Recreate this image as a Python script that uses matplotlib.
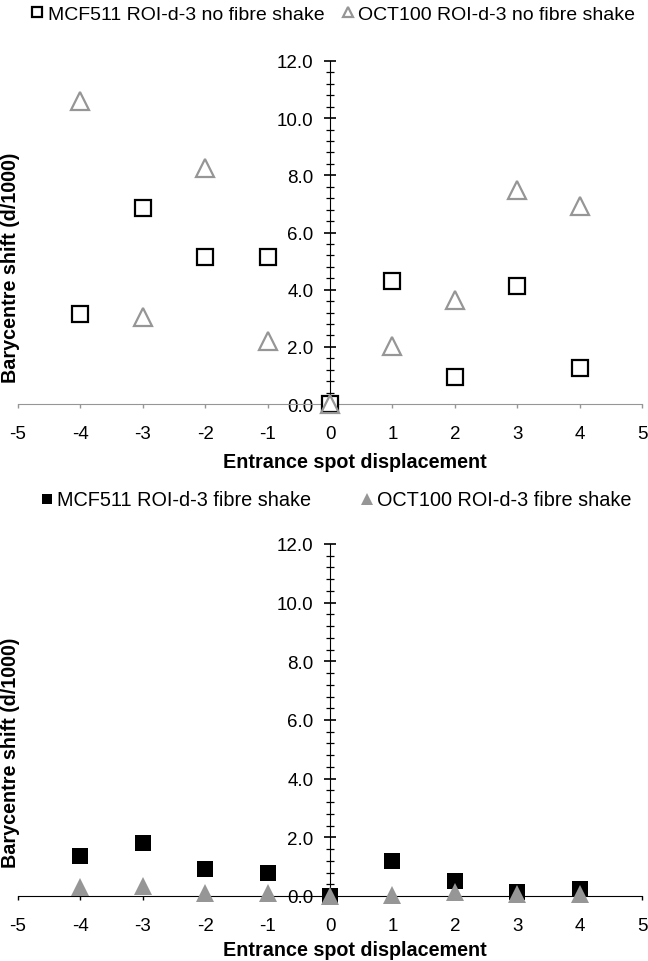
import matplotlib
matplotlib.use("Agg")
import matplotlib.pyplot as plt
from matplotlib.ticker import MultipleLocator, FormatStrFormatter

plt.rcParams['font.family'] = ['Liberation Sans', 'DejaVu Sans']
plt.rcParams['axes.unicode_minus'] = False

# valeurs
displacement = [-4, -3, -2, -1, 0, 1, 2, 3, 4]
mcf_no_shake = [3.16, 6.87, 5.13, 5.13, 0.0, 4.30, 0.95, 4.12, 1.25]
oct_no_shake = [10.6, 3.03, 8.27, 2.20, 0.0, 2.04, 3.63, 7.48, 6.93]
mcf_shake = [1.37, 1.79, 0.93, 0.80, 0.0, 1.21, 0.52, 0.14, 0.25]
oct_shake = [0.31, 0.35, 0.11, 0.11, 0.0, 0.05, 0.15, 0.08, 0.08]

labels_top = ["MCF511 ROI-d-3 no fibre shake", "OCT100 ROI-d-3 no fibre shake"]
labels_bot = ["MCF511 ROI-d-3 fibre shake", "OCT100 ROI-d-3 fibre shake"]

GREY = '#969696'

fig = plt.figure(figsize=(6.48, 9.62), dpi=100)
W, H = 648, 962


def make_ax(top_px, bottom_px):
    return fig.add_axes([18 / W, 1 - bottom_px / H, 624 / W, (bottom_px - top_px) / H])


def style(ax, xcolor, xlab_y, ylab_y):
    ax.set_xlim(-5, 5)
    ax.set_ylim(0, 12)
    for s in ['top', 'right']:
        ax.spines[s].set_visible(False)
    ax.spines['left'].set_position(('data', 0))
    ax.spines['left'].set_color('black')
    ax.spines['bottom'].set_color(xcolor)
    ax.spines['left'].set_zorder(1)
    ax.xaxis.set_major_locator(MultipleLocator(1))
    ax.yaxis.set_major_locator(MultipleLocator(2))
    ax.yaxis.set_minor_locator(MultipleLocator(0.4))
    ax.yaxis.set_major_formatter(FormatStrFormatter('%.1f'))
    ax.tick_params(axis='y', which='major', direction='inout', length=8, width=1.2,
                   labelsize=13.5, pad=8)
    ax.tick_params(axis='y', which='minor', direction='inout', length=5.5, width=0.9)
    ax.tick_params(axis='x', direction='out', length=3, width=1, color=xcolor,
                   labelsize=13.5, pad=12)
    ax.set_xlabel("Entrance spot displacement", fontsize=14.2, fontweight='bold')
    ax.xaxis.set_label_coords(0.54, xlab_y)
    ax.set_ylabel("Barycentre shift (d/1000)", fontsize=14.2, fontweight='bold')
    ax.yaxis.set_label_coords(0.003, ylab_y)


# panneau du haut
ax1 = make_ax(62, 405)
ax1.plot(displacement, mcf_no_shake, linestyle='none', marker='s', markersize=12,
         markerfacecolor='white', markeredgecolor='black', markeredgewidth=1.6,
         clip_on=False, zorder=3, label=labels_top[0])
ax1.plot(displacement, oct_no_shake, linestyle='none', marker='^', markersize=12.5,
         markerfacecolor='none', markeredgecolor=GREY, markeredgewidth=1.6,
         clip_on=False, zorder=4, label=labels_top[1])
style(ax1, GREY, -0.14, 0.40)
ax1.legend(loc='center', bbox_to_anchor=(0.505, 1 + 47 / 343), ncol=2, frameon=False,
           fontsize=14, markerscale=0.55, handlelength=0.6, handletextpad=0.25,
           columnspacing=0.9, borderaxespad=0)

# panneau du bas
ax2 = make_ax(545, 897)
ax2.plot(displacement, mcf_shake, linestyle='none', marker='s', markersize=12,
         markerfacecolor='black', markeredgecolor='black', markeredgewidth=0,
         clip_on=False, zorder=3, label=labels_bot[0])
ax2.plot(displacement, oct_shake, linestyle='none', marker='^', markersize=13,
         markerfacecolor=GREY, markeredgecolor=GREY, markeredgewidth=0,
         clip_on=False, zorder=4, label=labels_bot[1])
style(ax2, 'black', -0.124, 0.41)
ax2.legend(loc='center', bbox_to_anchor=(0.51, 1 + 44 / 352), ncol=2, frameon=False,
           fontsize=14.3, markerscale=0.65, handlelength=0.6, handletextpad=0.2,
           columnspacing=2.5, borderaxespad=0)

fig.savefig("out.png", dpi=100)
